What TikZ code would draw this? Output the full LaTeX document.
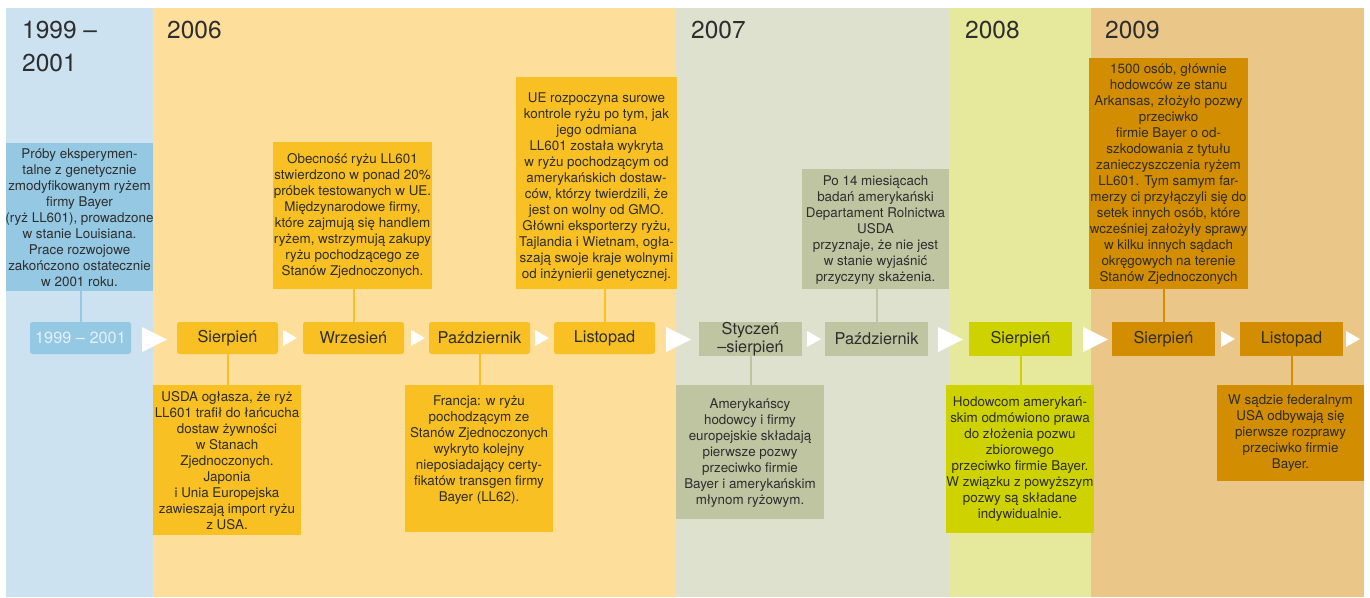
\documentclass[tikz,border=0pt]{standalone}
\usepackage{fontspec}
\setmainfont{TeX Gyre Heros}
\usetikzlibrary{calc}

% period background tints
\definecolor{bgBlue}{HTML}{CCE2F0}
\definecolor{bgYellow}{HTML}{FEDE9B}
\definecolor{bgGrey}{HTML}{DFE1CF}
\definecolor{bgLime}{HTML}{E6E89C}
\definecolor{bgOrange}{HTML}{EAC689}
% box fills
\definecolor{boxBlue}{HTML}{95C8E3}
\definecolor{boxYellow}{HTML}{F9C024}
\definecolor{boxGrey}{HTML}{BFC4A1}
\definecolor{boxLime}{HTML}{CED300}
\definecolor{boxOrange}{HTML}{D38D00}
\definecolor{ink}{HTML}{2E2E2E}
\definecolor{paleText}{HTML}{E3F1F9}

\begin{document}
\begin{tikzpicture}[x=1pt,y=-1pt,
  year/.style={anchor=base west,inner sep=0pt,text=ink,font=\fontsize{24.5}{28}\selectfont},
  tl/.style={rectangle,inner sep=0pt,minimum width=101pt,minimum height=32pt,
    text=ink,align=center,font=\fontsize{16.3}{18}\selectfont},
  tlwide/.style={tl,minimum width=103pt,minimum height=34pt},
  db/.style={rectangle,inner sep=0pt},
  dt/.style={inner sep=0pt,align=center,text=ink,font=\fontsize{13.4}{16}\selectfont},
  conn/.style={line width=2pt},
  bigtri/.pic={\fill[white] (0,-12.5) -- (25,0) -- (0,12.5) -- cycle;},
  smalltri/.pic={\fill[white] (0,-8) -- (14,0) -- (0,8) -- cycle;}
]
\useasboundingbox (0,0) rectangle (1370,597);
\fill[white] (0,0) rectangle (1370,597);

% period columns
\fill[bgBlue]   (6,8)    rectangle (153,597);
\fill[bgYellow] (153,8)  rectangle (676,597);
\fill[bgGrey]   (676,8)  rectangle (949,597);
\fill[bgLime]   (949,8)  rectangle (1091,597);
\fill[bgOrange] (1091,8) rectangle (1364,597);

% period headings
\node[year] (yA) at (22,38) {1999 –};
\node[year] (yB) at (22,71) {2001};
\node[year] (yC) at (167,38) {2006};
\node[year] (yD) at (691,38) {2007};
\node[year] (yE) at (965,38) {2008};
\node[year] (yF) at (1105,38) {2009};

% timeline
\node[tl,fill=boxBlue,rounded corners=2.5pt,text=paleText] (t0) at (80.5,338) {1999 – 2001};
\node[tl,fill=boxYellow,rounded corners=2.5pt] (t1) at (227.5,338) {Sierpień};
\node[tl,fill=boxYellow,rounded corners=2.5pt] (t2) at (353.5,338) {Wrzesień};
\node[tl,fill=boxYellow,rounded corners=2.5pt] (t3) at (479.5,338) {Październik};
\node[tl,fill=boxYellow,rounded corners=2.5pt] (t4) at (604.5,338) {Listopad};
\node[tlwide,fill=boxGrey] (t5) at (750.5,339) {Styczeń\\–sierpień};
\node[tlwide,fill=boxGrey] (t6) at (876.5,339) {Październik};
\node[tlwide,fill=boxLime] (t7) at (1020.5,339) {Sierpień};
\node[tlwide,fill=boxOrange] (t8) at (1163.5,339) {Sierpień};
\node[tlwide,fill=boxOrange] (t9) at (1291.5,339) {Listopad};

% arrowheads between the timeline steps
\pic at (142,339.5) {bigtri};
\pic at (666,339.5) {bigtri};
\pic at (938,339.5) {bigtri};
\pic at (1083,339.5) {bigtri};
\pic at (283,338) {smalltri};
\pic at (411,338) {smalltri};
\pic at (535,338) {smalltri};
\pic at (807,339) {smalltri};
\pic at (1221,339) {smalltri};
\pic at (1346,339) {smalltri};

% description boxes
\node[db,fill=boxBlue,minimum width=147pt,minimum height=148pt] (bA) at (79.5,217) {};
\node[db,fill=boxYellow,minimum width=148pt,minimum height=150pt] (bB) at (227,460) {};
\node[db,fill=boxYellow,minimum width=159pt,minimum height=147pt] (bC) at (352.5,215.5) {};
\node[db,fill=boxYellow,minimum width=148pt,minimum height=147pt] (bD) at (479,458.5) {};
\node[db,fill=boxYellow,minimum width=161pt,minimum height=212pt] (bE) at (596.5,183) {};
\node[db,fill=boxGrey,minimum width=148pt,minimum height=134pt] (bF) at (750,452) {};
\node[db,fill=boxGrey,minimum width=147pt,minimum height=120pt] (bG) at (875.5,229) {};
\node[db,fill=boxLime,minimum width=148pt,minimum height=148pt] (bH) at (1020,459) {};
\node[db,fill=boxOrange,minimum width=159pt,minimum height=231pt] (bI) at (1168.5,173.5) {};
\node[db,fill=boxOrange,minimum width=147pt,minimum height=96pt] (bJ) at (1290.5,433) {};

% connectors from timeline steps to their descriptions
\draw[conn,boxBlue]   (t0.north) -- (t0.north |- bA.south);
\draw[conn,boxYellow] (t1.south) -- (t1.south |- bB.north);
\draw[conn,boxYellow] (t2.north) -- (t2.north |- bC.south);
\draw[conn,boxYellow] (t3.south) -- (t3.south |- bD.north);
\draw[conn,boxYellow] (t4.north) -- (t4.north |- bE.south);
\draw[conn,boxGrey]   (t5.south) -- (t5.south |- bF.north);
\draw[conn,boxGrey]   (t6.north) -- (t6.north |- bG.south);
\draw[conn,boxLime]   (t7.south) -- (t7.south |- bH.north);
\draw[conn,boxOrange] (t8.north) -- (t8.north |- bI.south);
\draw[conn,boxOrange] (t9.south) -- (t9.south |- bJ.north);

% description texts
\node[dt] (xA) at (79.5,218) {Próby eksperymen-\\talne z genetycznie\\zmodyfikowanym ryżem\\firmy Bayer\\(ryż LL601), prowadzone\\w stanie Louisiana.\\Prace rozwojowe\\zakończono ostatecznie\\w 2001 roku.};
\node[dt] (xB) at (227,461) {USDA ogłasza, że ryż\\LL601 trafił do łańcucha\\dostaw żywności\\w Stanach\\Zjednoczonych.\\Japonia\\i Unia Europejska\\zawieszają import ryżu\\z USA.};
\node[dt] (xC) at (352.5,216) {Obecność ryżu LL601\\stwierdzono w ponad 20\%\\próbek testowanych w UE.\\Międzynarodowe firmy,\\które zajmują się handlem\\ryżem, wstrzymują zakupy\\ryżu pochodzącego ze\\Stanów Zjednoczonych.};
\node[dt] (xD) at (479,450) {Francja: w ryżu\\pochodzącym ze\\Stanów Zjednoczonych\\wykryto kolejny\\nieposiadający certy-\\fikatów transgen firmy\\Bayer (LL62).};
\node[dt] (xE) at (596.5,187) {UE rozpoczyna surowe\\kontrole ryżu po tym, jak\\jego odmiana\\LL601 została wykryta\\w ryżu pochodzącym od\\amerykańskich dostaw-\\ców, którzy twierdzili, że\\jest on wolny od GMO.\\Główni eksporterzy ryżu,\\Tajlandia i Wietnam, ogła-\\szają swoje kraje wolnymi\\od inżynierii genetycznej.};
\node[dt] (xF) at (750,453) {Amerykańscy\\hodowcy i firmy\\europejskie składają\\pierwsze pozwy\\przeciwko firmie\\Bayer i amerykańskim\\młynom ryżowym.};
\node[dt] (xG) at (875.5,230) {Po 14 miesiącach\\badań amerykański\\Departament Rolnictwa\\USDA\\przyznaje, że nie jest\\w stanie wyjaśnić\\przyczyny skażenia.};
\node[dt] (xH) at (1020,459) {Hodowcom amerykań-\\skim odmówiono prawa\\do złożenia pozwu\\zbiorowego\\przeciwko firmie Bayer.\\W związku z powyższym\\pozwy są składane\\indywidualnie.};
\node[dt] (xI) at (1168.5,174.5) {1500 osób, głównie\\hodowców ze stanu\\Arkansas, złożyło pozwy\\przeciwko\\firmie Bayer o od-\\szkodowania z tytułu\\zanieczyszczenia ryżem\\LL601. Tym samym far-\\merzy ci przyłączyli się do\\setek innych osób, które\\wcześniej założyły sprawy\\w kilku innych sądach\\okręgowych na terenie\\Stanów Zjednoczonych};
\node[dt] (xJ) at (1290.5,433) {W sądzie federalnym\\USA odbywają się\\pierwsze rozprawy\\przeciwko firmie\\Bayer.};
\end{tikzpicture}
\end{document}
